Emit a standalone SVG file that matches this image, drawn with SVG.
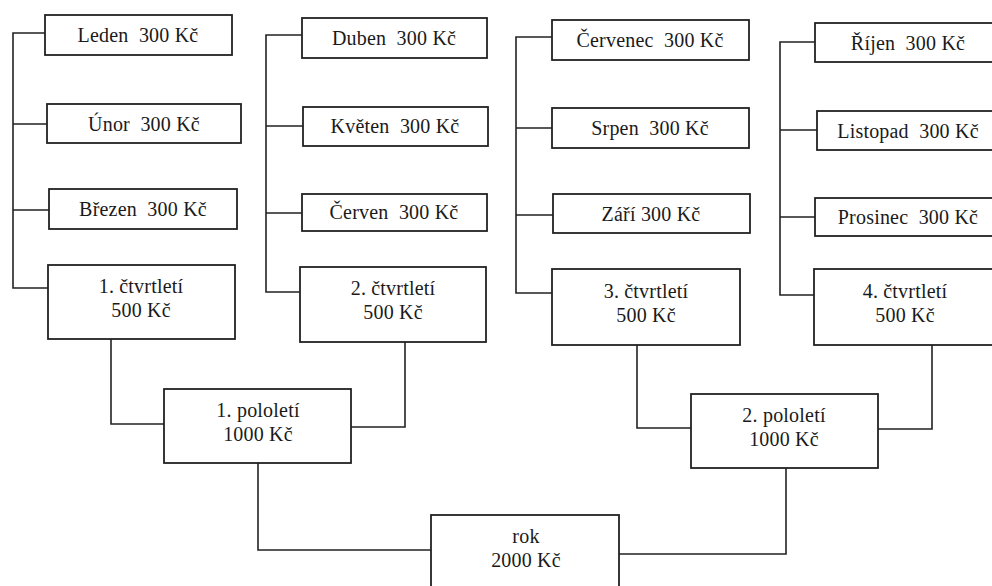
<svg xmlns="http://www.w3.org/2000/svg" width="992" height="586" viewBox="0 0 992 586">
<style>
.b{fill:#fff;stroke:#222;stroke-width:1.8}
.c{fill:none;stroke:#222;stroke-width:1.6}
text{font-family:'Liberation Serif','DejaVu Serif',serif;font-size:20px;fill:#1a1a1a;text-anchor:middle;white-space:pre;letter-spacing:0.2px}
</style>
<rect width="992" height="586" fill="#fff"/>
<g id="connectors">
<path class="c" d="M45,33H13V288H48M13,124H47M13,210H49"/>
<path class="c" d="M302,35H266V292H300M266,126H303M266,213H302"/>
<path class="c" d="M552,37H516V293H552M516,128H552M516,215H553"/>
<path class="c" d="M815,42H780V295H814M780,130H817M780,217H815"/>
<path class="c" d="M111,339V424H164"/>
<path class="c" d="M351,427H405V342"/>
<path class="c" d="M258,463V550H431"/>
<path class="c" d="M637,345V428H691"/>
<path class="c" d="M878,429H932V345"/>
<path class="c" d="M786,468V554H619"/>
</g>
<g id="leden"><rect class="b" x="45" y="15" width="187" height="40"/><text x="138" y="42">Leden  300 Kč</text></g>
<g id="unor"><rect class="b" x="47" y="104" width="194" height="39"/><text x="144" y="131">Únor  300 Kč</text></g>
<g id="brezen"><rect class="b" x="49" y="189" width="188" height="40"/><text x="143" y="216">Březen  300 Kč</text></g>
<g id="q1"><rect class="b" x="48" y="265" width="187" height="74"/><text x="141" y="293">1. čtvrtletí</text><text x="141" y="317">500 Kč</text></g>
<g id="duben"><rect class="b" x="302" y="18" width="185" height="40"/><text x="394" y="45">Duben  300 Kč</text></g>
<g id="kveten"><rect class="b" x="303" y="107" width="185" height="39"/><text x="395" y="133">Květen  300 Kč</text></g>
<g id="cerven"><rect class="b" x="302" y="194" width="185" height="37"/><text x="394" y="219">Červen  300 Kč</text></g>
<g id="q2"><rect class="b" x="300" y="267" width="186" height="75"/><text x="393" y="295">2. čtvrtletí</text><text x="393" y="319">500 Kč</text></g>
<g id="cervenec"><rect class="b" x="552" y="20" width="197" height="40"/><text x="650" y="47">Červenec  300 Kč</text></g>
<g id="srpen"><rect class="b" x="552" y="108" width="197" height="40"/><text x="650" y="135">Srpen  300 Kč</text></g>
<g id="zari"><rect class="b" x="553" y="194" width="197" height="39"/><text x="651" y="221">Září 300 Kč</text></g>
<g id="q3"><rect class="b" x="552" y="269" width="188" height="76"/><text x="646" y="298">3. čtvrtletí</text><text x="646" y="322">500 Kč</text></g>
<g id="rijen"><rect class="b" x="815" y="23" width="190" height="39"/><text x="908" y="50">Říjen  300 Kč</text></g>
<g id="listopad"><rect class="b" x="817" y="111" width="190" height="39"/><text x="908" y="138">Listopad  300 Kč</text></g>
<g id="prosinec"><rect class="b" x="815" y="198" width="190" height="38"/><text x="908" y="224">Prosinec  300 Kč</text></g>
<g id="q4"><rect class="b" x="814" y="269" width="190" height="76"/><text x="905" y="298">4. čtvrtletí</text><text x="905" y="322">500 Kč</text></g>
<g id="pololeti1"><rect class="b" x="164" y="389" width="187" height="74"/><text x="258" y="417">1. pololetí</text><text x="258" y="441">1000 Kč</text></g>
<g id="pololeti2"><rect class="b" x="691" y="394" width="187" height="74"/><text x="784" y="422">2. pololetí</text><text x="784" y="446">1000 Kč</text></g>
<g id="rok"><rect class="b" x="431" y="515" width="188" height="85"/><text x="526" y="543">rok</text><text x="526" y="567">2000 Kč</text></g>
</svg>
